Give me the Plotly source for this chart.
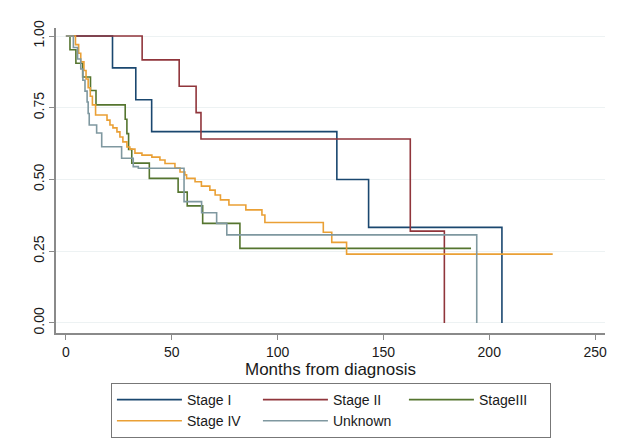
import plotly.graph_objects as go

# Kaplan-Meier estimates (months, survival probability)
stage1_t = [0, 22, 33, 40.5, 128, 143, 206]
stage1_s = [1, 0.889, 0.778, 0.667, 0.5, 0.333, 0]

stage2_t = [0, 36, 53.5, 61.5, 63.8, 162.7, 178.8]
stage2_s = [1, 0.917, 0.825, 0.733, 0.641, 0.32, 0]

stage3_t = [0, 1.9, 4.7, 7.9, 11.6, 14.2, 28, 28.8, 29.6, 31.1, 39.4, 53, 57.3, 64.6, 82.2, 191.4]
stage3_s = [1, 0.952, 0.905, 0.857, 0.81, 0.76, 0.71, 0.66, 0.605, 0.557, 0.504, 0.456, 0.408, 0.347, 0.26, 0.26]

stage4_t = [0, 4.5, 6, 7, 8.5, 9.5, 10.5, 11.5, 12.5, 14, 19.4, 20.8, 22.2, 24.1, 25.5, 26.9,
            28.8, 30.2, 32.6, 35.9, 40.6, 44.4, 46.8, 51.5, 53.9, 56.2, 57, 61, 64, 68, 70.5,
            73, 77, 85, 92.6, 94, 121.6, 125.6, 132.6, 230]
stage4_s = [1, 0.97, 0.94, 0.91, 0.88, 0.85, 0.82, 0.79, 0.76, 0.725, 0.707, 0.69, 0.68, 0.666,
            0.648, 0.631, 0.613, 0.606, 0.592, 0.585, 0.578, 0.568, 0.556, 0.54, 0.526, 0.516,
            0.504, 0.492, 0.477, 0.463, 0.446, 0.429, 0.411, 0.394, 0.376, 0.35, 0.316, 0.281,
            0.24, 0.24]

unknown_t = [0, 3.5, 5.5, 7, 8, 9, 10, 10.5, 11, 14.5, 16.9, 26.3, 31.8, 34.2, 55.8, 64.1, 71.2, 76, 194.1]
unknown_s = [1, 0.96, 0.92, 0.885, 0.846, 0.808, 0.77, 0.73, 0.69, 0.662, 0.614, 0.574, 0.545,
             0.539, 0.423, 0.384, 0.347, 0.307, 0]

x_ticks = [0, 50, 100, 150, 200, 250]
y_ticks = [0, 0.25, 0.5, 0.75, 1.0]

series = [
    ('Stage I', stage1_t, stage1_s, '#1a476f'),
    ('Stage II', stage2_t, stage2_s, '#90353b'),
    ('StageIII', stage3_t, stage3_s, '#55752f'),
    ('Stage IV', stage4_t, stage4_s, '#eaa035'),
    ('Unknown', unknown_t, unknown_s, '#7f98a0'),
]

fig = go.Figure()
for name, t, s, color in series:
    fig.add_trace(go.Scatter(
        x=t, y=s, name=name, mode='lines',
        line=dict(color=color, width=1.6, shape='hv')
    ))

# page body has an 8px margin, so the figure is sized to fit inside the window
W, H = 621, 440
axis_color = '#8a8a8a'
fig.update_layout(
    width=W, height=H,
    margin=dict(l=48, r=24, t=20, b=115),
    paper_bgcolor='white',
    plot_bgcolor='white',
    font=dict(family='Liberation Sans, Arial, sans-serif', size=14, color='#1a1a1a'),
    xaxis=dict(
        range=[-4.7, 254.7],
        tickvals=x_ticks,
        ticks='outside', ticklen=5, tickcolor=axis_color,
        showline=True, linecolor=axis_color, linewidth=1.5,
        showgrid=False, zeroline=False,
        automargin=False,
        title=dict(text='Months from diagnosis', standoff=0),
    ),
    yaxis=dict(
        range=[-0.035, 1.028],
        tickvals=y_ticks,
        tickformat='.2f',
        tickangle=-90,
        ticks='outside', ticklen=5, tickcolor=axis_color,
        showline=True, linecolor=axis_color, linewidth=1.5,
        gridcolor='#edf2f3', gridwidth=1,
        zeroline=False,
        automargin=False,
    ),
    showlegend=True,
    legend=dict(
        orientation='h',
        x=0.52, xanchor='center', xref='container',
        y=1 - 375 / H, yanchor='top', yref='container',
        entrywidth=66,
        itemwidth=65,
        bordercolor='#777777', borderwidth=1,
        font=dict(size=14),
        tracegroupgap=0,
    ),
)

fig.write_html("out.html")
